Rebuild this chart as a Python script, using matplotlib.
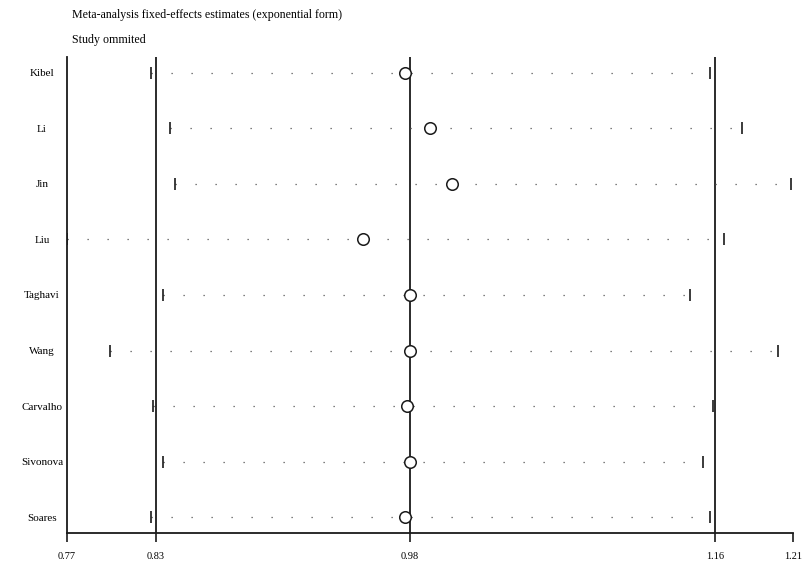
import matplotlib.pyplot as plt

# Influence analysis: pooled estimate with each study left out in turn
studies = ['Kibel', 'Li', 'Jin', 'Liu', 'Taghavi', 'Wang', 'Carvalho', 'Sivonova', 'Soares']
estimate = [0.977, 0.992, 1.005, 0.952, 0.980, 0.980, 0.978, 0.980, 0.977]
ci_low = [0.827, 0.838, 0.841, 0.7775, 0.834, 0.803, 0.828, 0.834, 0.827]
ci_high = [1.157, 1.176, 1.205, 1.165, 1.145, 1.197, 1.159, 1.153, 1.157]

# overall estimate and its confidence limits
overall = [0.83, 0.98, 1.16]
tick_values = [0.7775, 0.83, 0.98, 1.16, 1.206]
tick_labels = ['0.77', '0.83', '0.98', '1.16', '1.21']

plt.rcParams['font.family'] = ['Liberation Serif', 'DejaVu Serif']

fig = plt.figure(figsize=(8.04, 5.62), dpi=100)
ax = fig.add_axes([67 / 804, 1 - 533 / 562, (793 - 67) / 804, (533 - 57) / 562])

ink = '#1a1a1a'
rows = range(len(studies))

for v in overall:
    ax.axvline(v, color=ink, lw=1.3, zorder=1)

for i in rows:
    ax.plot([ci_low[i], ci_high[i]], [i, i], color='#555555', lw=0.9,
            linestyle=(0, (1, 15)), zorder=2)
    ax.plot([ci_low[i], ci_high[i]], [i, i], linestyle='none', marker='|',
            markersize=9, markeredgewidth=1.2, color=ink, zorder=3)
    ax.plot(estimate[i], i, marker='o', markersize=8.3, markerfacecolor='white',
            markeredgecolor=ink, markeredgewidth=1.1, zorder=4)

ax.set_xlim(tick_values[0], tick_values[-1])
ax.set_ylim(len(studies) - 1 + 0.28, -0.28)

ax.set_xticks(tick_values)
ax.set_xticklabels(tick_labels, fontsize=7.5)
ax.tick_params(axis='x', length=6.5, width=1.2, color=ink, pad=7)

ax.set_yticks(list(rows))
ax.set_yticklabels(studies, fontsize=8, ha='center')
ax.tick_params(axis='y', length=0, pad=18)

for side in ['top', 'right']:
    ax.spines[side].set_visible(False)
for side in ['left', 'bottom']:
    ax.spines[side].set_linewidth(1.3)
    ax.spines[side].set_color(ink)

fig.text(72 / 804, 1 - 15 / 562, 'Meta-analysis fixed-effects estimates (exponential form)',
         fontsize=8.6, va='center', ha='left')
fig.text(72 / 804, 1 - 40 / 562, 'Study ommited', fontsize=8.6, va='center', ha='left')

fig.savefig('out.png', dpi=100)
